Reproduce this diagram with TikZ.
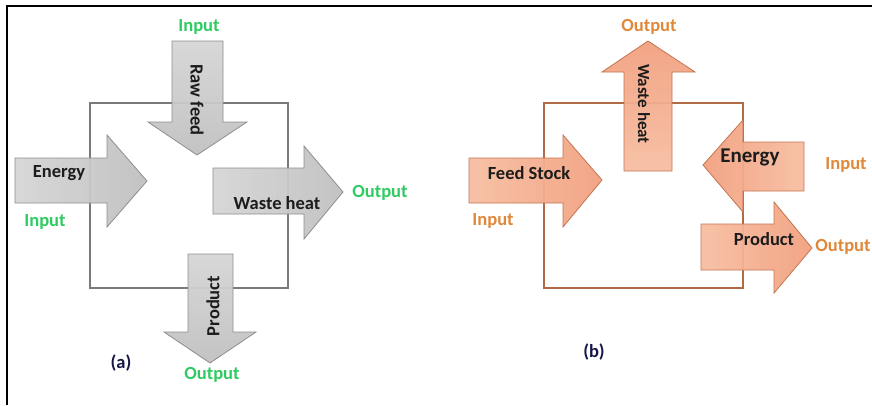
\documentclass[tikz,border=0pt]{standalone}
\usepackage{fontspec}
\setmainfont{Carlito}
\definecolor{lblgreen}{HTML}{2FCB62}
\definecolor{lblorange}{HTML}{E0883A}
\definecolor{grayedge}{HTML}{8E8E8E}
\definecolor{graydark}{HTML}{C0C0C0}
\definecolor{graylight}{HTML}{D6D6D6}
\definecolor{orgedge}{HTML}{C47550}
\definecolor{orgdark}{HTML}{F2A07F}
\definecolor{orglight}{HTML}{F7BEA2}
\definecolor{boxgray}{HTML}{7A7A7A}
\definecolor{boxbrown}{HTML}{B06A44}
\definecolor{txtdark}{HTML}{1C1C1C}
\tikzset{
  every node/.style={font=\fontsize{18.5}{20}\selectfont\bfseries, inner sep=0pt},
  grayarrow/.style={draw=grayedge, line width=0.8pt, fill opacity=0.94},
  orgarrow/.style={draw=orgedge, line width=0.8pt, fill opacity=0.94},
  inlbl/.style={text=txtdark},
  greenlbl/.style={text=lblgreen},
  orangelbl/.style={text=lblorange},
  caplbl/.style={text=txtdark!80!blue},
  procbox/.style={line width=1.1pt}
}
\begin{document}
\begin{tikzpicture}[x=1pt,y=-1pt]
\useasboundingbox (0,0) rectangle (872,405);
\fill[white] (0,0) rectangle (872,405);
% frame
\draw[line width=1.2pt, black] (7,405) -- (7,6) -- (872,6);

% ---------------- (a) ----------------
\draw[procbox, draw=boxgray] (90,103) rectangle (288,288);
% Raw feed (down)
\shade[grayarrow, top color=graylight, bottom color=graydark]
  (172,41) -- (223,41) -- (223,122) -- (247,122) -- (197,155) -- (148,122) -- (172,122) -- cycle;
% Energy (right)
\shade[grayarrow, left color=graylight, right color=graydark]
  (15,158) -- (107,158) -- (107,135) -- (147,181) -- (107,227) -- (107,203) -- (15,203) -- cycle;
% Waste heat (right)
\shade[grayarrow, left color=graylight, right color=graydark]
  (213,168) -- (304,168) -- (304,146) -- (343,192) -- (304,239) -- (304,214) -- (213,214) -- cycle;
% Product (down)
\shade[grayarrow, top color=graylight, bottom color=graydark]
  (188,254) -- (233,254) -- (233,332) -- (256,332) -- (210,363) -- (164,332) -- (188,332) -- cycle;

\node[inlbl] (aenergy) at (59,173) {Energy};
\node[inlbl] (awaste) at (277,203) {Waste heat};
\node[inlbl, rotate=-90] (araw) at (197,100) {Raw feed};
\node[inlbl, rotate=90] (aprod) at (213,306) {Product};

\node[greenlbl] (ain1) at (199,27) {Input};
\node[greenlbl] (ain2) at (45,222) {Input};
\node[greenlbl] (aout1) at (380,193) {Output};
\node[greenlbl] (aout2) at (212,375) {Output};
\node[caplbl] (acap) at (121,363) {(a)};

% ---------------- (b) ----------------
\draw[procbox, draw=boxbrown] (544,103) rectangle (743,288);
% Waste heat (up)
\shade[orgarrow, top color=orgdark, bottom color=orglight]
  (624,171) -- (624,72) -- (602,72) -- (648,41) -- (695,72) -- (672,72) -- (672,171) -- cycle;
% Feed Stock (right)
\shade[orgarrow, left color=orglight, right color=orgdark]
  (469,158) -- (563,158) -- (563,135) -- (602,180) -- (563,227) -- (563,203) -- (469,203) -- cycle;
% Energy (left)
\shade[orgarrow, left color=orgdark, right color=orglight]
  (804,142) -- (743,142) -- (743,120) -- (703,165) -- (743,212) -- (743,191) -- (804,191) -- cycle;
% Product (right)
\shade[orgarrow, left color=orglight, right color=orgdark]
  (701,224) -- (774,224) -- (774,202) -- (812,248) -- (774,293) -- (774,270) -- (701,270) -- cycle;

\node[inlbl] (bfeed) at (529,173) {Feed Stock};
\node[inlbl, font=\fontsize{21}{22}\selectfont\bfseries] (benergy) at (750,157) {Energy};
\node[inlbl] (bprod) at (764,239) {Product};
\node[inlbl, rotate=-90, font=\fontsize{17}{18}\selectfont\bfseries] (bwaste) at (644,104) {Waste heat};

\node[orangelbl] (bout1) at (649,27) {Output};
\node[orangelbl] (bin1) at (846,165) {Input};
\node[orangelbl] (bin2) at (493,221) {Input};
\node[orangelbl] (bout2) at (843,247) {Output};
\node[caplbl] (bcap) at (594,352) {(b)};
\end{tikzpicture}
\end{document}
